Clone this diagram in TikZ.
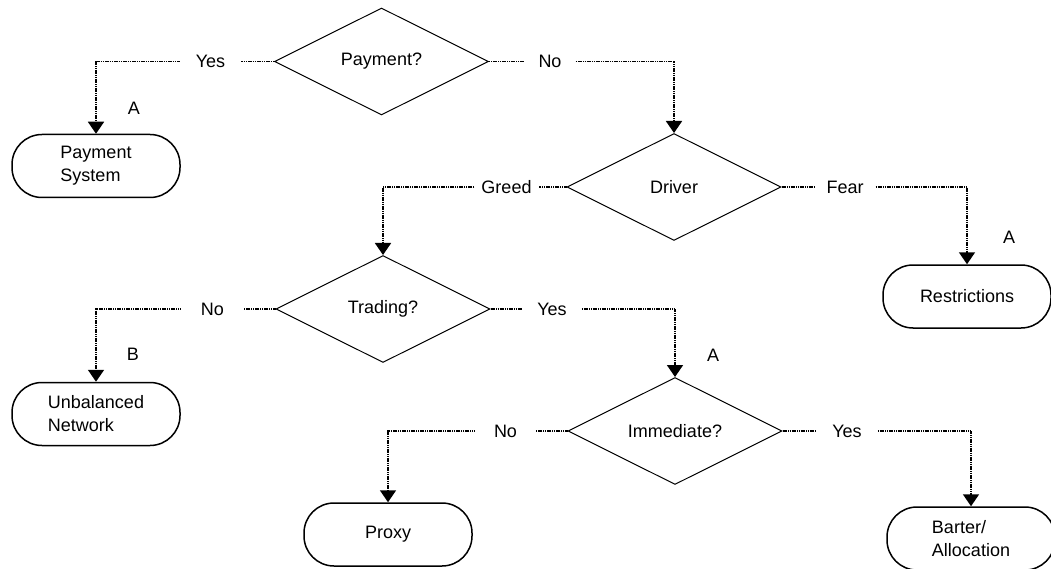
\documentclass[tikz,border=0pt]{standalone}
\usepackage{fontspec}
\setmainfont{Liberation Sans}
\usetikzlibrary{shapes.geometric,arrows.meta}
\begin{document}
\begin{tikzpicture}[x=1pt,y=-1pt,
  font=\fontsize{18pt}{23pt}\selectfont,
  decision/.style={diamond, draw, line width=1pt, minimum width=214pt,
    minimum height=107pt, inner sep=0pt, aspect=2},
  terminal/.style={draw, line width=1.5pt, rounded corners=30pt,
    minimum width=168pt, minimum height=63pt, align=left, inner sep=0pt},
  lbl/.style={inner ysep=0pt, text height=13pt, text depth=0pt},
  tag/.style={inner sep=0pt},
  flow/.style={line width=1.7pt, dash pattern=on 1.2pt off 0.6pt},
  tip/.style={flow, -{Triangle[length=12pt,width=16pt]}},
]
\useasboundingbox (0,0) rectangle (1051,569);

% decisions
\node[decision] (pay) at (381.5,61.5) {Payment?};
\node[decision] (drv) at (674,187) {Driver};
\node[decision] (trd) at (383,309) {Trading?};
\node[decision] (imm) at (675,431) {Immediate?};

% outcomes
\node[terminal] (psys)   at (96,166)    {Payment\\System};
\node[terminal] (restr)  at (967,296.5) {Restrictions};
\node[terminal] (unbal)  at (96,414)    {Unbalanced\\Network};
\node[terminal] (proxy)  at (388,534.5) {Proxy};
\node[terminal] (barter) at (971,538.5) {Barter/\\Allocation};

% branch labels
\node[lbl, inner xsep=16pt] (yes1)  at (210.5,61.5) {Yes};
\node[lbl, inner xsep=14pt] (no1)   at (550,61.5)   {No};
\node[lbl, inner xsep=7pt]  (greed) at (506.5,187)  {Greed};
\node[lbl, inner xsep=12pt] (fear)  at (845,187)    {Fear};
\node[lbl, inner xsep=20pt] (no2)   at (212.5,309)  {No};
\node[lbl, inner xsep=15pt] (yes2)  at (552,309)    {Yes};
\node[lbl, inner xsep=19pt] (no3)   at (505.5,431)  {No};
\node[lbl, inner xsep=16pt] (yes3)  at (847,431)    {Yes};

% category tags
\node[tag] (tagpay)   at (134,108)  {A};
\node[tag] (tagrestr) at (1009,237) {A};
\node[tag] (tagimm)   at (713,355)  {A};
\node[tag] (tagunbal) at (133,354)  {B};

% connectors
\draw[flow] (pay.west) -- (yes1.east);
\draw[tip]  (yes1.west) -| (psys.north);
\draw[flow] (pay.east) -- (no1.west);
\draw[tip]  (no1.east) -| (drv.north);

\draw[flow] (drv.west) -- (greed.east);
\draw[tip]  (greed.west) -| (trd.north);
\draw[flow] (drv.east) -- (fear.west);
\draw[tip]  (fear.east) -| (restr.north);

\draw[flow] (trd.west) -- (no2.east);
\draw[tip]  (no2.west) -| (unbal.north);
\draw[flow] (trd.east) -- (yes2.west);
\draw[tip]  (yes2.east) -| (imm.north);

\draw[flow] (imm.west) -- (no3.east);
\draw[tip]  (no3.west) -| (proxy.north);
\draw[flow] (imm.east) -- (yes3.west);
\draw[tip]  (yes3.east) -| (barter.north);
\end{tikzpicture}
\end{document}
